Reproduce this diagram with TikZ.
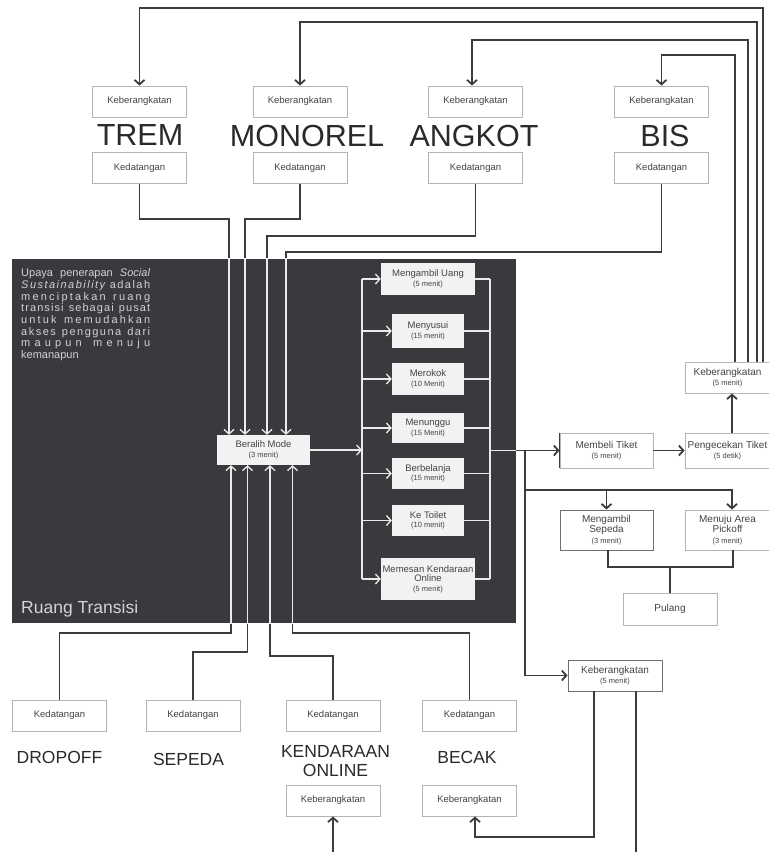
\documentclass[tikz,border=0pt]{standalone}
\usepackage{fontspec}
\setmainfont{Liberation Sans}
\usetikzlibrary{arrows.meta}

\definecolor{panelgrey}{HTML}{3A393D}
\definecolor{linedark}{HTML}{3C3C3C}
\definecolor{boxgrey}{HTML}{B4B4B4}
\definecolor{boxdark}{HTML}{707070}
\definecolor{boxtext}{HTML}{444444}
\definecolor{actfill}{HTML}{F2F2F2}
\definecolor{panelwhite}{HTML}{EAEAEA}
\definecolor{notegrey}{HTML}{D2D2D2}
\definecolor{nametext}{HTML}{2A2A2A}

\newcommand\subline[1]{{\fontsize{7.5}{9}\selectfont #1}}
% a justified line of the panel note, stretched at the word gaps
\newcommand\jline[1]{\makebox[129pt][s]{#1}}
% letters with stretchable glue between them, and a justified line made of them
\ExplSyntaxOn
\NewDocumentCommand \spreadin { m }
  { \tl_map_inline:nn {#1} { {##1} \hskip~0pt~plus~1fil } \unskip }
\NewDocumentCommand \spreadline { m }
  { \makebox[129pt][s]{ \spreadin{#1} } }
\ExplSyntaxOff

\tikzset{
  dline/.style={draw=linedark, line width=1.8pt},
  wline/.style={draw=panelwhite, line width=1.3pt},
  arr/.style={-{Straight Barb[length=4.5pt,width=10pt]}},
  topbox/.style={draw=boxgrey, line width=0.9pt, fill=white, minimum width=94pt,
    minimum height=31pt, inner sep=0pt, text=boxtext, font=\fontsize{9.5}{10}\selectfont},
  act/.style={fill=actfill, inner sep=0pt, text=boxtext, align=center,
    font=\fontsize{9.5}{9.5}\selectfont},
  rbox/.style={draw=boxgrey, line width=0.9pt, fill=white, inner sep=0pt, text=boxtext,
    align=center, font=\fontsize{10}{10.5}\selectfont},
  modename/.style={inner sep=0pt, text=nametext, font=\fontsize{30.5}{32}\selectfont},
  subname/.style={inner sep=0pt, text=nametext, align=center, font=\fontsize{17.5}{19}\selectfont},
}

% connectors that cross the edge of the transition panel
\newcommand\crosspaths[1]{%
  \draw[#1,arr] (tremArr.south) |- (t1) -- (t1 |- beralih.north);
  \draw[#1,arr] (monorelArr.south) |- (t2) -- (t2 |- beralih.north);
  \draw[#1,arr] (angkotArr.south) |- (t3) -- (t3 |- beralih.north);
  \draw[#1,arr] (bisArr.south) |- (t4) -- (t4 |- beralih.north);
  \draw[#1,arr] (dropK.north) |- (b1) -- (b1 |- beralih.south);
  \draw[#1,arr] (sepK.north) |- (b2) -- (b2 |- beralih.south);
  \draw[#1,arr] (kendK.north) |- (b3) -- (b3 |- beralih.south);
  \draw[#1,arr] (becakK.north) |- (b4) -- (b4 |- beralih.south);
  \draw[#1,arr] (rbus |- beli.west) -- (beli.west);
}

\begin{document}
\begin{tikzpicture}[x=1pt, y=-1pt]
\useasboundingbox (0,0) rectangle (769,852);
\clip (0,0) rectangle (769,852);

% ---------- transition panel ----------
\node[fill=panelgrey, minimum width=504pt, minimum height=364pt, inner sep=0pt] (panel) at (264,441) {};
\node[anchor=north west, inner sep=0pt, text=notegrey, align=left,
      font=\fontsize{11}{11.7}\selectfont] (note) at (21,268.5) {%
  \jline{Upaya penerapan \textit{Social}}\\
  \makebox[129pt][s]{\itshape\spreadin{Sustainability}\hskip 0pt plus 1fil\ \upshape\spreadin{adalah}}\\
  \spreadline{menciptakan~ruang}\\
  \spreadline{transisi~sebagai~pusat}\\
  \spreadline{untuk~memudahkan}\\
  \spreadline{akses~pengguna~dari}\\
  \spreadline{maupun~menuju}\\
  kemanapun};
\node[anchor=west, inner sep=0pt, text=notegrey, font=\fontsize{17.5}{19}\selectfont] (ruang) at (21,609) {Ruang Transisi};

% ---------- upper modes ----------
\node[topbox] (tremDep) at (139.5,101.5) {Keberangkatan};
\node[modename] (tremName) at (140,135.5) {TREM};
\node[topbox] (tremArr) at (139.5,168) {Kedatangan};

\node[topbox] (monorelDep) at (300,101.5) {Keberangkatan};
\node[modename] (monorelName) at (307,135.5) {MONOREL};
\node[topbox] (monorelArr) at (300,168) {Kedatangan};

\node[topbox] (angkotDep) at (475.5,101.5) {Keberangkatan};
\node[modename] (angkotName) at (474,135.5) {ANGKOT};
\node[topbox] (angkotArr) at (475.5,168) {Kedatangan};

\node[topbox] (bisDep) at (661.5,101.5) {Keberangkatan};
\node[modename] (bisName) at (665,135.5) {BIS};
\node[topbox] (bisArr) at (661.5,168) {Kedatangan};

% ---------- lower modes ----------
\node[topbox] (dropK) at (59.5,715.5) {Kedatangan};
\node[subname] (dropName) at (59.5,757) {DROPOFF};
\node[topbox] (sepK) at (193,715.5) {Kedatangan};
\node[subname] (sepName) at (188.5,759) {SEPEDA};
\node[topbox] (kendK) at (333,715.5) {Kedatangan};
\node[subname] (kendName) at (335.5,761.5) {KENDARAAN\\ONLINE};
\node[topbox] (kendDep) at (333,800.5) {Keberangkatan};
\node[topbox] (becakK) at (469.5,715.5) {Kedatangan};
\node[subname] (becakName) at (467,757) {BECAK};
\node[topbox] (becakDep) at (469.5,800.5) {Keberangkatan};

% ---------- activities inside the panel ----------
\node[act, minimum width=93pt, minimum height=30pt] (beralih) at (263.5,450) {Beralih Mode\\\subline{(3 menit)}};
\node[act, minimum width=94pt, minimum height=32pt] (uang) at (428,279) {Mengambil Uang\\\subline{(5 menit)}};
\node[act, minimum width=72pt, minimum height=34pt] (susui) at (428,331) {Menyusui\\\subline{(15 menit)}};
\node[act, minimum width=72pt, minimum height=32pt] (rokok) at (428,379) {Merokok\\\subline{(10 Menit)}};
\node[act, minimum width=72pt, minimum height=30pt] (tunggu) at (428,428) {Menunggu\\\subline{(15 Menit)}};
\node[act, minimum width=72pt, minimum height=31pt] (belanja) at (428,473.5) {Berbelanja\\\subline{(15 menit)}};
\node[act, minimum width=72pt, minimum height=31pt] (toilet) at (428,520.5) {Ke Toilet\\\subline{(10 menit)}};
\node[act, minimum width=94pt, minimum height=42pt] (pesan) at (428,579) {Memesan Kendaraan\\Online\\\subline{(5 menit)}};

% ---------- right-hand steps ----------
\node[rbox, minimum width=93pt, minimum height=35pt] (beli) at (606.5,450.5) {Membeli Tiket\\\subline{(5 menit)}};
\node[rbox, minimum width=85pt, minimum height=35pt] (cek) at (727.5,450.5) {Pengecekan Tiket\\\subline{(5 detik)}};
\node[rbox, minimum width=85pt, minimum height=31pt] (upDep) at (727.5,377.5) {Keberangkatan\\\subline{(5 menit)}};
\node[rbox, draw=boxdark, minimum width=93pt, minimum height=40pt] (ambil) at (606.5,530) {Mengambil\\Sepeda\\\subline{(3 menit)}};
\node[rbox, minimum width=85pt, minimum height=40pt] (menuju) at (727.5,530) {Menuju Area\\Pickoff\\\subline{(3 menit)}};
\node[rbox, minimum width=94pt, minimum height=32pt] (pulang) at (670,609) {Pulang};
\node[rbox, draw=boxdark, minimum width=94pt, minimum height=31pt] (lowdep) at (615,675.5) {Keberangkatan\\\subline{(5 menit)}};
\draw[linedark, line width=1.2pt] (beli.north west) -- (beli.south west);

% ---------- routing points ----------
\coordinate (t1) at (229,219);
\coordinate (t2) at (245,219);
\coordinate (t3) at (267,236);
\coordinate (t4) at (286,252);
\coordinate (b1) at (231,633);
\coordinate (b2) at (247.5,652);
\coordinate (b3) at (270,656);
\coordinate (b4) at (292.5,633);
\coordinate (lbus) at (362,0);
\coordinate (rbus) at (490,0);
\coordinate (r1) at (763,8);
\coordinate (r2) at (757,22);
\coordinate (r3) at (748,40);
\coordinate (r4) at (735,55);
\coordinate (jn) at (525,490);
\coordinate (pj) at (670,567);
\coordinate (bt) at (475,837);
\coordinate (ex) at (636,852);
\coordinate (kin) at (333,852);

% ---------- connectors ----------
\crosspaths{dline}
\begin{scope}
  \clip (panel.north west) rectangle (panel.south east);
  \crosspaths{wline}
\end{scope}

% returns from the departure hall to every upper mode
\draw[dline,arr] (r1 |- upDep.north) -- (r1) -| (tremDep.north);
\draw[dline,arr] (r2 |- upDep.north) -- (r2) -| (monorelDep.north);
\draw[dline,arr] (r3 |- upDep.north) -- (r3) -| ([xshift=-3.5pt]angkotDep.north);
\draw[dline,arr] (r4 |- upDep.north) -- (r4) -| (bisDep.north);

% activity bus inside the panel
\draw[wline,arr] (beralih.east) -- (lbus |- beralih.east);
\draw[wline] (lbus |- uang.west) -- (lbus |- pesan.west);
\draw[wline] (rbus |- uang.east) -- (rbus |- pesan.east);
\foreach \n in {uang,susui,rokok,tunggu,belanja,toilet,pesan}{
  \draw[wline,arr] (lbus |- \n.west) -- (\n.west);
  \draw[wline] (\n.east) -- (rbus |- \n.east);
}

% ticketing and exits
\draw[dline,arr] (beli.east) -- (cek.west);
\draw[dline,arr] ([xshift=4.5pt]cek.north) -- ([xshift=4.5pt]upDep.south);
\draw[dline,arr] (jn |- beli.west) |- (lowdep.west);
\draw[dline,arr] (jn) -| (ambil.north);
\draw[dline,arr] (jn) -| ([xshift=4.5pt]menuju.north);
\draw[dline] ([xshift=1.5pt]ambil.south) |- (pj) -| ([xshift=5.5pt]menuju.south);
\draw[dline] (pj) -- (pulang.north);
\draw[dline,arr] ([xshift=-21pt]lowdep.south) |- (bt) -- (bt |- becakDep.south);
\draw[dline] ([xshift=21pt]lowdep.south) -- (ex);
\draw[dline,arr] (kin) -- (kendDep.south);
\end{tikzpicture}
\end{document}
